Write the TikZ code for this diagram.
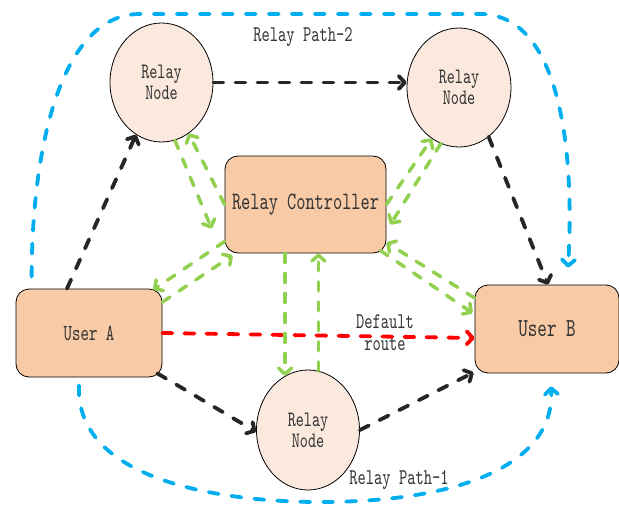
\documentclass[tikz,border=0pt]{standalone}
\usepackage{fontspec}
\usetikzlibrary{arrows.meta,shapes.geometric,calc}
\newfontfamily\lblfont[Extension=.otf, FakeStretch=0.7]{lmmono10-regular}
\definecolor{relayfill}{HTML}{FBE9DD}
\definecolor{boxfill}{HTML}{F8CBA6}
\definecolor{pathblue}{HTML}{00AEEF}
\definecolor{linkgreen}{HTML}{92D050}
\definecolor{routered}{HTML}{FF0000}
\definecolor{linkblack}{HTML}{262626}
\definecolor{txt}{HTML}{333333}

\begin{document}
\begin{tikzpicture}[x=1pt,y=-1pt,
  relay/.style={ellipse, draw=black, line width=0.8pt, fill=relayfill, inner sep=0pt,
    align=center, text=txt, font=\lblfont\fontsize{22}{21}\selectfont},
  box/.style={rectangle, rounded corners=13pt, draw=black, line width=0.8pt,
    fill=boxfill, inner sep=0pt, text=txt},
  tip/.style={-{Straight Barb[length=6pt,width=13pt,round]}},
  link/.style={line width=3.8pt, line cap=round, dash pattern=on 10pt off 12pt, tip},
  blk/.style={link, draw=linkblack},
  grn/.style={link, draw=linkgreen, line width=3.5pt, dash pattern=on 9pt off 11pt},
  red/.style={link, draw=routered},
  blu/.style={link, draw=pathblue, dash pattern=on 10pt off 13pt},
  lbl/.style={text=txt, inner sep=0pt, font=\lblfont\fontsize{22.5}{21}\selectfont}
]
\useasboundingbox (0,0) rectangle (619,506);

% nodes
\node[relay, minimum width=103pt, minimum height=119pt] (tl) at (161.5,82.5) {Relay\\Node};
\node[relay, minimum width=104pt, minimum height=119pt] (tr) at (459,87.5) {Relay\\Node};
\node[relay, minimum width=103pt, minimum height=120pt] (bm) at (308,430) {Relay\\Node};
\node[box, minimum width=161pt, minimum height=97pt, font=\lblfont\fontsize{25}{22}\selectfont]
  (ctrl) at (305.5,204.5) {Relay Controller};
\node[box, minimum width=146pt, minimum height=88pt, font=\lblfont\fontsize{23}{22}\selectfont]
  (ua) at (89,333) {User A};
\node[box, minimum width=144pt, minimum height=88pt, font=\lblfont\fontsize{26}{22}\selectfont]
  (ub) at (547,329) {User B};

% labels
\node[lbl] (p2) at (303,37) {Relay Path-2};
\node[lbl] (p1) at (399,480) {Relay Path-1};
\node[lbl] (d1) at (385,322) {Default};
\node[lbl] (d2) at (385,344) {route};

% relay path 2 (black)
\draw[blk] ([xshift=-22pt]ua.north) -- (tl.244);
\draw[blk] (tl.east) -- (tl.east -| tr.west);
\draw[blk] (tr.301) -- ([xshift=1pt]ub.north);

% relay path 1 (black)
\draw[blk] ([shift={(-5,-4)}]ua.south east) -- (bm.182);
\draw[blk] (bm.east) -- ([shift={(-1,-1)}]ub.south west);

% default route
\draw[red] (ua.east) -- ([shift={(0,9)}]ub.west);

% controller links (green)
\draw[grn] (tl.283) -- ([shift={(-13,24)}]ctrl.west);
\draw[grn] (ctrl.west) -- (tl.298);
\draw[grn] (tr.252) -- ([shift={(4,20)}]ctrl.east);
\draw[grn] (ctrl.east) -- (tr.242);
\draw[grn] ([shift={(0,37)}]ctrl.west) -- ([shift={(-9,1)}]ua.north east);
\draw[grn] ([shift={(0,-31)}]ua.east) -- ([shift={(8,2)}]ctrl.south west);
\draw[grn] (bm.113 |- ctrl.south) -- (bm.113);
\draw[grn] (bm.80) -- (bm.80 |- ctrl.south);
\draw[grn] ([shift={(0,-31)}]ub.west) -- ([shift={(0,38)}]ctrl.east);
\draw[grn] ([shift={(-6,46)}]ctrl.east) -- ([shift={(-2,-16)}]ub.west);

% relay paths (blue)
\draw[blu] ([shift={(16,-12)}]ua.north west)
  .. controls (32,150) and (60,14) .. (140,14)
  -- (480,14)
  .. controls (560,14) and (575,150) .. ([shift={(21,-17)}]ub.north);
\draw[blu] ([shift={(-10,8)}]ua.south)
  .. controls (75,480) and (220,502) .. (320,502)
  .. controls (470,502) and (555,460) .. ([shift={(4,13)}]ub.south);
\end{tikzpicture}
\end{document}
